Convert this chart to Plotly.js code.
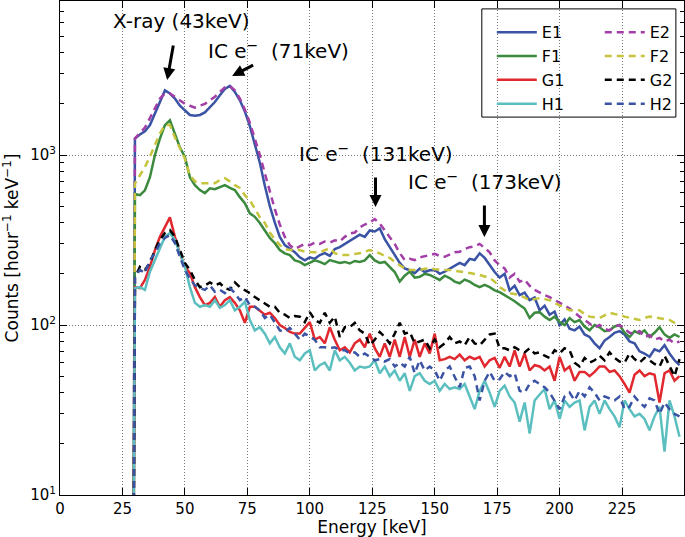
<!DOCTYPE html>
<html><head><meta charset="utf-8">
<script src="https://cdn.plot.ly/plotly-3.0.1.min.js"></script>
<style>html,body{margin:0;padding:0;background:#fff}</style>
</head><body><div id="chart" style="width:685px;height:537px"></div>
<script>
// Energy bin centres [keV]; the first point sits below the axis to draw the threshold edge
const energy = [29.4,
 30,32,34,36,38,40,42,44,46,48,
 50,52,54,56,58,60,62,64,66,68,
 70,72,74,76,78,80,82,84,86,88,
 90,92,94,96,98,100,102,104,106,108,
 110,112,114,116,118,120,122,124,126,128,
 130,132,134,136,138,140,142,144,146,148,
 150,152,154,156,158,160,162,164,166,168,
 170,172,174,176,178,180,182,184,186,188,
 190,192,194,196,198,200,202,204,206,208,
 210,212,214,216,218,220,222,224,226,228,
 230,232,234,236,238,240,242,244,246,248];

const E1 = [3,
 1250,1320,1380,1500,1750,2050,2400,2300,2150,1950,
 1820,1720,1700,1720,1780,1900,2050,2250,2450,2550,
 2350,2100,1800,1480,1150,900,660,500,400,330,
 295,280,268,250,240,250,245,258,265,255,
 280,287,300,310,325,340,330,360,355,370,
 320,287,255,232,215,210,202,215,205,210,
 211,200,206,215,222,232,225,245,241,264,
 248,225,205,190,200,160,170,150,155,140,
 145,122,130,115,120,100,108,95,93,98,
 88,85,78,73,81,85,90,92,88,80,
 78,70,68,65,72,70,76,68,62,58];

const F1 = [3,
 590,580,620,740,1000,1250,1500,1600,1340,1110,
 975,740,665,622,597,637,630,645,665,640,
 622,565,520,454,433,398,362,325,303,276,
 264,258,240,235,225,232,240,235,228,241,
 236,232,235,230,238,235,240,258,240,232,
 235,220,205,180,195,206,190,192,200,197,
 190,184,195,189,180,176,185,180,172,167,
 172,167,160,156,150,144,138,131,125,110,
 118,119,112,107,112,104,100,110,104,107,
 98,93,100,97,92,93,98,100,90,85,
 92,89,93,85,90,97,88,84,88,85];

const G1 = [3,
 167,165,184,220,276,330,378,430,330,264,
 220,202,167,146,131,135,146,128,140,146,
 135,122,103,128,128,122,115,118,110,100,
 96,91,89,89,97,104,82,85,78,97,
 82,71,74,69,78,82,74,89,73,65,
 78,65,82,65,85,65,82,65,78,68,
 89,62,63,65,63,67,62,65,63,65,
 57,62,64,56,65,57,71,57,68,54,
 58,57,54,57,47,65,54,57,47,53,
 53,50,53,57,57,53,54,50,45,40,
 51,54,50,52,51,35,52,54,47,50];

const H1 = [3,
 165,167,161,206,241,287,330,348,316,264,
 220,167,135,128,131,128,140,126,131,140,
 122,128,137,107,93,97,89,78,85,74,
 68,78,65,62,68,71,54,58,60,54,
 71,62,65,60,54,57,56,57,62,52,
 57,50,54,47,52,41,50,52,47,45,
 47,41,45,42,43,42,45,38,32,41,
 47,40,33,41,44,38,35,27,35,23,
 36,39,42,32,36,28,36,33,35,36,
 24,33,36,30,36,32,29,25,36,32,
 29,30,28,24,29,33,18,36,29,22];

const E2 = [3,
 1250,1350,1450,1650,1900,2150,2300,2300,2200,2100,
 2000,1950,1900,1950,2000,2100,2200,2350,2500,2550,
 2400,2150,1850,1550,1250,1000,780,600,480,390,
 330,295,280,290,300,295,305,300,310,305,
 315,310,330,345,350,375,390,400,420,395,
 360,330,300,265,241,245,241,250,255,258,
 262,255,252,260,268,270,280,287,290,300,
 283,268,240,225,215,190,200,180,185,170,
 161,155,150,146,140,135,130,125,118,112,
 107,102,97,100,95,93,98,100,95,90,
 89,92,85,87,82,84,80,82,78,80];

const F2 = [3,
 680,760,850,980,1150,1340,1500,1500,1270,1100,
 950,760,700,683,683,690,683,712,730,700,
 665,640,580,543,480,430,398,350,320,295,
 280,276,276,276,270,268,268,268,275,283,
 265,258,258,258,262,264,270,276,270,264,
 255,248,235,225,215,211,211,211,214,216,
 213,211,211,211,208,206,204,202,200,197,
 193,189,180,167,160,154,152,150,145,140,
 142,144,142,140,135,131,126,122,122,122,
 116,112,111,110,114,118,116,115,112,110,
 108,107,110,112,111,110,108,107,103,100];

const G2 = [3,
 191,220,211,232,276,316,348,362,330,276,
 232,211,184,167,171,178,171,176,165,161,
 178,167,161,154,146,140,135,128,128,118,
 115,110,113,112,104,119,107,103,118,103,
 112,85,97,97,103,93,89,76,82,91,
 85,78,89,103,89,91,78,80,82,73,
 82,74,78,85,78,80,76,85,78,76,
 82,88,89,73,73,71,74,71,69,73,
 68,69,66,64,71,68,73,71,60,57,
 64,60,62,66,62,69,64,61,60,68,
 63,60,64,62,59,57,66,57,50,63];

const H2 = [3,
 191,211,202,241,264,303,325,338,303,252,
 211,188,171,165,161,171,157,161,154,165,
 154,140,146,131,128,122,110,115,103,93,
 91,96,89,82,89,85,82,74,74,73,
 74,71,71,68,69,65,68,65,62,63,
 61,63,57,60,57,65,52,62,54,57,
 54,47,54,57,50,43,56,57,50,36,
 47,53,47,48,53,50,52,41,40,45,
 47,45,43,40,36,32,38,40,36,41,
 38,43,40,36,38,37,36,38,32,33,
 38,35,33,37,36,30,35,32,30,29];

const seriesNames = ['E1','F1','G1','H1','E2','F2','G2','H2'];
const seriesData  = [E1, F1, G1, H1, E2, F2, G2, H2];
const seriesColors = ['#3a53a4','#3b8a3e','#e0282e','#5cbfbf','#a23ea6','#c5c43c','#000000','#3a53a4'];

const yTickVals = [10, 100, 1000];
const yTickText = ['10<sup>1</sup>', '10<sup>2</sup>', '10<sup>3</sup>'];
const yMinorVals = [20,30,40,50,60,70,80,90,200,300,400,500,600,700,800,900,2000,3000,4000,5000,6000,7000,8000];

const annoTexts = ['X-ray (43keV)', 'IC e<sup>\u2212</sup>\u00a0\u00a0(71keV)', 'IC e<sup>\u2212</sup>\u00a0\u00a0(131keV)', 'IC e<sup>\u2212</sup>\u00a0\u00a0(173keV)'];
const annoTextX = [48.5, 87.4, 126.3, 170.3];
const annoTextY = [6140, 4150, 1028, 703];
const arrowHeadX = [42.9, 68.9, 126.3, 169.9];
const arrowHeadY = [2760, 2915, 494, 329];
const arrowTail = [[8,-45],[25,-13],[0,-40],[0,-42]];

const traces = seriesNames.map((n, i) => ({
  type: 'scatter', mode: 'lines', name: n,
  x: energy, y: seriesData[i],
  line: {color: seriesColors[i], width: 2.5, dash: i < 4 ? 'solid' : '7px,5px'},
  legend: i < 4 ? 'legend' : 'legend2'
}));

const annotations = [];
annoTexts.forEach((t, i) => {
  annotations.push({xref:'x', yref:'y', x: annoTextX[i], y: Math.log10(annoTextY[i]), text: t,
    showarrow:false, font:{size:20, color:'#000'}});
  annotations.push({xref:'x', yref:'y', x: arrowHeadX[i], y: Math.log10(arrowHeadY[i]), text:' ',
    showarrow:true, ax: arrowTail[i][0], ay: arrowTail[i][1], arrowhead:2, arrowsize:0.8,
    arrowwidth:3, arrowcolor:'#000', standoff:0});
});

const axisCommon = {
  ticks:'inside', ticklen:7, tickwidth:1, tickcolor:'#000', mirror:'allticks',
  showline:true, linecolor:'#000', linewidth:1, showgrid:true, gridcolor:'#777777',
  griddash:'1px,2px', gridwidth:1, zeroline:false, tickfont:{size:15, color:'#000'}
};

const legendCommon = {
  yanchor:'top', xanchor:'left', y:0.971, bgcolor:'rgba(0,0,0,0)', borderwidth:0,
  font:{size:16, color:'#000'}, tracegroupgap:0, itemwidth:40
};

const layout = {
  width:685, height:537,
  margin:{l:60, r:1, t:1, b:42},
  paper_bgcolor:'#fff', plot_bgcolor:'#fff',
  font:{family:'DejaVu Sans, sans-serif', size:15, color:'#000'},
  showlegend:true,
  xaxis: Object.assign({}, axisCommon, {
    range:[0, 249.8], tick0:0, dtick:25,
    title:{text:'Energy [keV]', font:{size:17}, standoff:4}
  }),
  yaxis: Object.assign({}, axisCommon, {
    type:'log', range:[1, 3.906], tickmode:'array', tickvals:yTickVals, ticktext:yTickText,
    minor:{tickmode:'array', tickvals:yMinorVals, ticks:'inside', ticklen:4, tickcolor:'#000', showgrid:false},
    title:{text:'Counts [hour<sup>\u22121</sup> keV<sup>\u22121</sup>]', font:{size:17}, standoff:8}
  }),
  legend: Object.assign({}, legendCommon, {x:0.692}),
  legend2: Object.assign({}, legendCommon, {x:0.865}),
  shapes:[{type:'rect', xref:'paper', yref:'paper', x0:0.676, x1:0.987, y0:0.765, y1:0.984,
    line:{color:'#000', width:1}, fillcolor:'rgba(0,0,0,0)'}],
  annotations: annotations
};

Plotly.newPlot('chart', traces, layout, {displayModeBar:false, staticPlot:true});
</script>
</body></html>
